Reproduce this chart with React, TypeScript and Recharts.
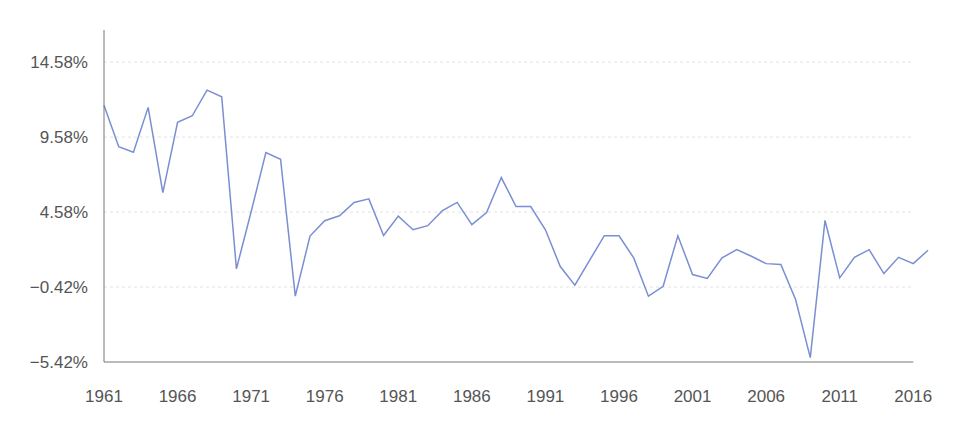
import { LineChart, Line, XAxis, YAxis, ReferenceLine } from 'recharts'

const years = [
  1961, 1962, 1963, 1964, 1965, 1966, 1967, 1968, 1969, 1970,
  1971, 1972, 1973, 1974, 1975, 1976, 1977, 1978, 1979, 1980,
  1981, 1982, 1983, 1984, 1985, 1986, 1987, 1988, 1989, 1990,
  1991, 1992, 1993, 1994, 1995, 1996, 1997, 1998, 1999, 2000,
  2001, 2002, 2003, 2004, 2005, 2006, 2007, 2008, 2009, 2010,
  2011, 2012, 2013, 2014, 2015, 2016, 2017,
]
const growth = [
  11.71, 8.94, 8.57, 11.56, 5.88, 10.56, 11.0, 12.71, 12.27, 0.79,
  4.6, 8.54, 8.1, -1.03, 2.98, 4.0, 4.33, 5.22, 5.46, 3.02,
  4.31, 3.4, 3.67, 4.67, 5.22, 3.74, 4.55, 6.88, 4.95, 4.95,
  3.4, 0.96, -0.3, 1.36, 3.0, 3.0, 1.52, -1.03, -0.37, 3.0,
  0.41, 0.15, 1.52, 2.07, 1.63, 1.14, 1.08, -1.25, -5.13, 4.02,
  0.19, 1.56, 2.07, 0.48, 1.56, 1.14, 2.03,
]
const yTicks = [-5.42, -0.42, 4.58, 9.58, 14.58]
const xTicks = [1961, 1966, 1971, 1976, 1981, 1986, 1991, 1996, 2001, 2006, 2011, 2016]

const data = years.map((year, i) => ({ year, value: growth[i] }))

const fmt = (v: number) => `${v < 0 ? '\u2212' : ''}${Math.abs(v).toFixed(2)}%`

export default function App() {
  return (
    <div style={{ position: 'absolute', left: 0, top: 0, background: '#fff' }}>
      <LineChart
        width={960}
        height={440}
        data={data}
        margin={{ top: 30, right: 32, bottom: 0, left: 10 }}
        style={{ fontFamily: '"Liberation Sans", Arial, sans-serif' }}
      >
        <XAxis
          dataKey="year"
          type="number"
          domain={[1961, 2017]}
          ticks={xTicks}
          axisLine={false}
          tickLine={false}
          tickMargin={22}
          height={78}
          tick={{ fill: '#555', fontSize: 17 }}
          interval={0}
        />
        <YAxis
          type="number"
          domain={[-5.42, 16.72]}
          ticks={yTicks}
          tickFormatter={fmt}
          axisLine={{ stroke: '#777', strokeWidth: 1 }}
          tickLine={false}
          tickMargin={10}
          width={94}
          tick={{ fill: '#555', fontSize: 17 }}
          interval={0}
        />
        {yTicks.slice(1).map((t) => (
          <ReferenceLine
            key={t}
            segment={[{ x: 1961, y: t }, { x: 2016, y: t }]}
            stroke="#e2e2e2"
            strokeDasharray="3 3"
          />
        ))}
        <ReferenceLine
          segment={[{ x: 1961, y: -5.42 }, { x: 2016, y: -5.42 }]}
          stroke="#777"
          strokeWidth={1}
        />
        <Line
          type="linear"
          dataKey="value"
          stroke="#7a8fd3"
          strokeWidth={1.5}
          dot={false}
          activeDot={false}
          isAnimationActive={false}
        />
      </LineChart>
    </div>
  )
}
